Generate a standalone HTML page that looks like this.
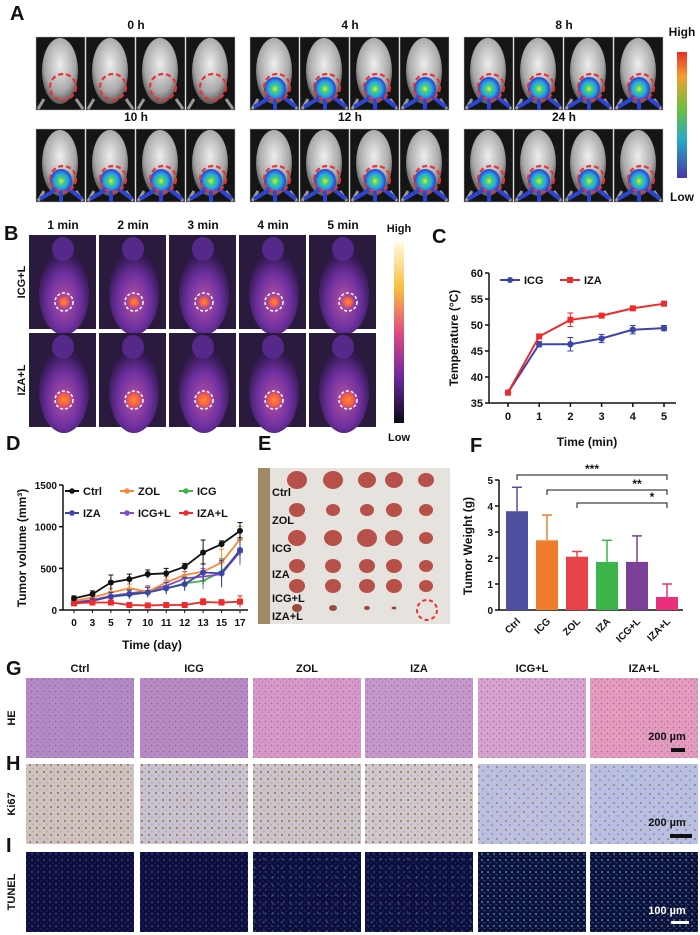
<!DOCTYPE html>
<html><head><meta charset="utf-8">
<style>
html,body{margin:0;padding:0;background:#fff;}
svg{display:block;font-family:"Liberation Sans",Arial,sans-serif;font-weight:bold;}
</style></head>
<body>
<svg id="fig" width="700" height="935" viewBox="0 0 700 935" xmlns="http://www.w3.org/2000/svg">
<defs>
<radialGradient id="mouseBody" cx="50%" cy="40%" r="60%"><stop offset="0" stop-color="#eeeeee"/><stop offset="0.7" stop-color="#a8a8a8"/><stop offset="1" stop-color="#555"/></radialGradient>
<radialGradient id="lumBlob" cx="50%" cy="50%" r="50%"><stop offset="0" stop-color="#f4e640"/><stop offset="0.3" stop-color="#3bd07a"/><stop offset="0.6" stop-color="#2aa6e0"/><stop offset="1" stop-color="#2b3ccf"/></radialGradient>
<radialGradient id="thermBody" cx="50%" cy="60%" r="55%"><stop offset="0" stop-color="#b552a0"/><stop offset="0.6" stop-color="#6e30a0"/><stop offset="1" stop-color="#341a52"/></radialGradient>
<radialGradient id="hot" cx="50%" cy="50%" r="50%"><stop offset="0" stop-color="#ff8a30"/><stop offset="0.6" stop-color="#f05a4a"/><stop offset="1" stop-color="#c04090" stop-opacity="0"/></radialGradient>
<linearGradient id="cbarA" x1="0" y1="0" x2="0" y2="1"><stop offset="0" stop-color="#e8302a"/><stop offset="0.2" stop-color="#f0a030"/><stop offset="0.45" stop-color="#6cc040"/><stop offset="0.7" stop-color="#2aa8c8"/><stop offset="1" stop-color="#4438a8"/></linearGradient>
<linearGradient id="cbarB" x1="0" y1="0" x2="0" y2="1"><stop offset="0" stop-color="#fffbe0"/><stop offset="0.25" stop-color="#f8c040"/><stop offset="0.5" stop-color="#e04a80"/><stop offset="0.75" stop-color="#6a28a0"/><stop offset="1" stop-color="#0a0a14"/></linearGradient>
<pattern id="heDots" width="6" height="6" patternUnits="userSpaceOnUse"><circle cx="1.5" cy="1.5" r="0.9" fill="#6a4a9a" opacity="0.5"/><circle cx="4.5" cy="4" r="0.8" fill="#7a58a8" opacity="0.4"/></pattern>
<pattern id="kiDots" width="7" height="7" patternUnits="userSpaceOnUse"><circle cx="2" cy="2" r="1" fill="#8a5a2a" opacity="0.8"/><circle cx="5" cy="5.5" r="0.9" fill="#7b8ac0" opacity="0.5"/></pattern>
<pattern id="kiDotsLow" width="9" height="9" patternUnits="userSpaceOnUse"><circle cx="2" cy="2" r="0.9" fill="#7a4a2a" opacity="0.7"/><circle cx="6" cy="6" r="1" fill="#6a7ac0" opacity="0.6"/></pattern>
<pattern id="tuDots" width="6" height="6" patternUnits="userSpaceOnUse"><circle cx="2" cy="2" r="1.2" fill="#3340c8" opacity="0.6"/><circle cx="5" cy="5" r="0.9" fill="#2a32b0" opacity="0.5"/></pattern>
<pattern id="tuGreen" width="9" height="9" patternUnits="userSpaceOnUse"><circle cx="3" cy="4" r="0.7" fill="#40d060" opacity="0.7"/></pattern>
<pattern id="tuGreenHi" width="6" height="6" patternUnits="userSpaceOnUse"><circle cx="2" cy="2" r="0.8" fill="#50e070" opacity="0.8"/><circle cx="4" cy="4.5" r="0.5" fill="#40c8b0" opacity="0.7"/></pattern>
</defs>
<g id="panelA"></g>
<g id="panelB"></g>
<g id="panelC"></g>
<g id="panelD"></g>
<g id="panelE"></g>
<g id="panelF"></g>
<g id="panelGHI"></g>
</svg>
<script>
// ===== Panel C data =====
const cTimes = [0,1,2,3,4,5];
const cICG = [37,46.3,46.3,47.4,49.1,49.4];
const cICGerr = [0.3,0.5,1.3,0.8,0.8,0.5];
const cIZA = [37,47.8,51.0,51.8,53.2,54.1];
const cIZAerr = [0.3,0.3,1.3,0.3,0.3,0.4];
const cYTicks = [35,40,45,50,55,60];
// ===== Panel D data =====
const dDays = ["0","3","5","7","10","11","12","13","15","17"];
const dCtrl = [140,190,330,370,430,440,520,690,790,950];
const dCtrlErr = [30,40,90,60,50,60,40,150,40,100];
const dZOL = [110,150,210,260,220,330,420,460,570,850];
const dICG = [90,120,160,180,210,260,320,350,460,690];
const dIZA = [80,110,160,190,210,260,310,450,440,720];
const dICGL = [90,120,170,200,230,290,380,400,430,700];
const dIZAL = [80,90,90,60,55,60,60,95,90,100];
const dGroupErr = [25,30,50,50,60,70,80,100,160,150];
const dIZALErr = [20,20,25,25,20,20,20,40,35,70];
const dYTicks = [0,500,1000,1500];
// ===== Panel F data =====
const fGroups = ["Ctrl","ICG","ZOL","IZA","ICG+L","IZA+L"];
const fMeans = [3.8,2.68,2.05,1.85,1.85,0.5];
const fErr = [0.92,0.97,0.2,0.83,1.0,0.5];
const fYTicks = [0,1,2,3,4,5];

const NS="http://www.w3.org/2000/svg";
function mk(parent,tag,attrs,text){const e=document.createElementNS(NS,tag);for(const k in attrs)e.setAttribute(k,attrs[k]);if(text!==undefined)e.textContent=text;parent.appendChild(e);return e;}
function label(parent,x,y,t,size,anchor,name,extra){const e=mk(parent,'text',Object.assign({x:x,y:y,'font-size':size,'text-anchor':anchor||'middle',fill:'#111'},extra||{}),t);


return e;}

// ===== Panel A =====
const A=document.getElementById('panelA');
label(A,10,20,'A',20,'start','panel-a-letter');
const aGroupX=[36,250,464];
const aRowY=[37,129];
const aTimes=[["0 h","4 h","8 h"],["10 h","12 h","24 h"]];
aRowY.forEach((ry,ri)=>{aGroupX.forEach((gx,gi)=>{
  label(A,gx+100,ry-8,aTimes[ri][gi],12,'middle','time-label');
  for(let k=0;k<4;k++){
    const x=gx+k*50, g=mk(A,'g',{});
    
    
    mk(g,'rect',{x:x,y:ry,width:49,height:73,fill:'#151515',stroke:'#bbb','stroke-width':0.5});
    mk(g,'ellipse',{cx:x+24,cy:ry+34,rx:18,ry:33,fill:'url(#mouseBody)'});
    mk(g,'path',{d:`M${x+8} ${ry+62} L${x+2} ${ry+72} M${x+40} ${ry+62} L${x+47} ${ry+72}`,stroke:'#999','stroke-width':3});
    const ccx=x+27, ccy=ry+50;
    if(!(ri===0&&gi===0)){
      mk(g,'ellipse',{cx:ccx-2,cy:ccy+2,rx:11,ry:12,fill:'url(#lumBlob)'});
      mk(g,'path',{d:`M${x+4} ${ry+70} L${ccx-6} ${ccy+10} M${x+46} ${ry+70} L${ccx+6} ${ccy+10} M${ccx-2} ${ccy+12} L${ccx-2} ${ry+73}`,stroke:'#2c44d0','stroke-width':4,fill:'none'});
    }
    mk(g,'circle',{cx:ccx,cy:ccy,r:13,fill:'none',stroke:'#f03030','stroke-width':2.2,'stroke-dasharray':'5 3'});
  }
});});
const cba=mk(A,'rect',{x:677,y:52,width:10,height:126,fill:'url(#cbarA)'});


label(A,682,36,'High',12,'middle','colorbar-high-label');
label(A,682,201,'Low',12,'middle','colorbar-low-label');

// ===== Panel B =====
const B=document.getElementById('panelB');
label(B,4,240,'B',20,'start','panel-b-letter');
const bX=[29,99,169,239,309];
const bMin=["1 min","2 min","3 min","4 min","5 min"];
const bY=[235,333];
bX.forEach((x,i)=>label(B,x+34,229,bMin[i],12,'middle','minute-label'));
bY.forEach((y,ri)=>{bX.forEach((x,i)=>{
  const g=mk(B,'g',{});
  
  
  mk(g,'rect',{x:x,y:y,width:67,height:94,fill:'#2a1a3e'});
  mk(g,'ellipse',{cx:x+35,cy:y+58,rx:25,ry:42,fill:'url(#thermBody)'});
  mk(g,'ellipse',{cx:x+34,cy:y+14,rx:11,ry:12,fill:'#55298a'});
  const cx=x+(i===4?39:35), cy=y+67;
  mk(g,'circle',{cx:cx,cy:cy,r:ri?10:7,fill:'url(#hot)'});
  mk(g,'circle',{cx:cx,cy:cy,r:9,fill:'none',stroke:'#fff','stroke-width':1.5,'stroke-dasharray':'3 2'});
});});
label(B,25,282,'ICG+L',11,'middle','row-label-icg-l',{transform:'rotate(-90 25 282)'});
label(B,25,380,'IZA+L',11,'middle','row-label-iza-l',{transform:'rotate(-90 25 380)'});
const cbb=mk(B,'rect',{x:394,y:242,width:10,height:181,fill:'url(#cbarB)'});


label(B,399,232,'High',11,'middle','colorbar-high-label');
label(B,399,441,'Low',11,'middle','colorbar-low-label');

// ===== Panel C =====
const C=document.getElementById('panelC');
label(C,432,243,'C',20,'start','panel-c-letter');
const cx0=508,cx1=664,cyTop=273,cyBot=403;
const cX=t=>cx0+(t-0)/5*(cx1-cx0);
const cY=v=>cyBot-(v-35)/25*(cyBot-cyTop);
const cax=mk(C,'path',{d:`M${cx0-19} ${cyTop} L${cx0-19} ${cyBot} L${cx1+12} ${cyBot}`,stroke:'#111','stroke-width':1.5,fill:'none'});


cYTicks.forEach(v=>{mk(C,'line',{x1:cx0-23,x2:cx0-19,y1:cY(v),y2:cY(v),stroke:'#111','stroke-width':1.5});label(C,cx0-25,cY(v)+4,String(v),11,'end','c-y-tick');});
cTimes.forEach(t=>{mk(C,'line',{x1:cX(t),x2:cX(t),y1:cyBot,y2:cyBot+4,stroke:'#111','stroke-width':1.5});label(C,cX(t),cyBot+17,String(t),11,'middle','c-x-tick');});
label(C,587,446,'Time (min)',12,'middle','c-x-axis-title');
label(C,458,338,'Temperature (°C)',12,'middle','c-y-axis-title',{transform:'rotate(-90 458 338)'});
function cSeries(vals,errs,color,marker,name){
  const g=mk(C,'g',{});
  
  
  mk(g,'polyline',{points:vals.map((v,i)=>cX(cTimes[i])+','+cY(v)).join(' '),fill:'none',stroke:color,'stroke-width':2});
  vals.forEach((v,i)=>{const x=cX(cTimes[i]);
    mk(g,'path',{d:`M${x} ${cY(v-errs[i])} L${x} ${cY(v+errs[i])} M${x-3} ${cY(v-errs[i])} L${x+3} ${cY(v-errs[i])} M${x-3} ${cY(v+errs[i])} L${x+3} ${cY(v+errs[i])}`,stroke:color,'stroke-width':1});
    if(marker==='c')mk(g,'circle',{cx:x,cy:cY(v),r:3.2,fill:color});else mk(g,'rect',{x:x-3,y:cY(v)-3,width:6,height:6,fill:color});
  });
}
cSeries(cICG,cICGerr,'#3a45a8','c','series-icg');
cSeries(cIZA,cIZAerr,'#ee2a2a','s','series-iza');
mk(C,'line',{x1:500,x2:520,y1:280,y2:280,stroke:'#3a45a8','stroke-width':2});mk(C,'circle',{cx:510,cy:280,r:3,fill:'#3a45a8'});
label(C,524,284,'ICG',11,'start','legend-icg');
mk(C,'line',{x1:560,x2:580,y1:280,y2:280,stroke:'#ee2a2a','stroke-width':2});mk(C,'rect',{x:567,y:277,width:6,height:6,fill:'#ee2a2a'});
label(C,584,284,'IZA',11,'start','legend-iza');

// ===== Panel D =====
const D=document.getElementById('panelD');
label(D,6,450,'D',20,'start','panel-d-letter');
const dx0=74,dx1=240,dy0=610,dyTop=485;
const dX=i=>dx0+i*(dx1-dx0)/(dDays.length-1);
const dY=v=>dy0-v/1500*(dy0-dyTop);
const dax=mk(D,'path',{d:`M63 ${dyTop} L63 ${dy0} L${dx1+8} ${dy0}`,stroke:'#111','stroke-width':1.5,fill:'none'});


dYTicks.forEach(v=>{mk(D,'line',{x1:59,x2:63,y1:dY(v),y2:dY(v),stroke:'#111','stroke-width':1.5});label(D,57,dY(v)+4,String(v),10,'end','d-y-tick');});
dDays.forEach((d,i)=>{mk(D,'line',{x1:dX(i),x2:dX(i),y1:dy0,y2:dy0+3,stroke:'#111'});label(D,dX(i),dy0+16,d,10,'middle','d-x-tick');});
label(D,152,649,'Time (day)',12,'middle','d-x-axis-title');
label(D,26,548,'Tumor volume (mm³)',12,'middle','d-y-axis-title',{transform:'rotate(-90 26 548)'});
function dSeries(vals,errs,color,marker,name){
  const g=mk(D,'g',{});
  
  
  vals.forEach((v,i)=>{const x=dX(i);mk(g,'path',{d:`M${x} ${dY(v-errs[i])} L${x} ${dY(v+errs[i])} M${x-2.5} ${dY(v+errs[i])} L${x+2.5} ${dY(v+errs[i])}`,stroke:color,'stroke-width':1});});
  mk(g,'polyline',{points:vals.map((v,i)=>dX(i)+','+dY(v)).join(' '),fill:'none',stroke:color,'stroke-width':1.8});
  vals.forEach((v,i)=>{const x=dX(i),y=dY(v);
    if(marker==='c')mk(g,'circle',{cx:x,cy:y,r:3,fill:color});
    else if(marker==='s')mk(g,'rect',{x:x-3,y:y-3,width:6,height:6,fill:color});
    else mk(g,'path',{d:`M${x-3} ${y} L${x+3} ${y} M${x} ${y-3} L${x} ${y+3}`,stroke:color,'stroke-width':1.5});
  });
}
dSeries(dICG,dGroupErr,'#3cb54a','p','series-icg');
dSeries(dICGL,dGroupErr,'#8a4ac0','p','series-icg-l');
dSeries(dZOL,dGroupErr,'#f58a30','p','series-zol');
dSeries(dIZA,dGroupErr,'#3a45a8','c','series-iza');
dSeries(dIZAL,dIZALErr,'#ee2a2a','s','series-iza-l');
dSeries(dCtrl,dCtrlErr,'#111','c','series-ctrl');
const dLeg=[["Ctrl","#111",72,491],["ZOL","#f58a30",127,491],["ICG","#3cb54a",186,491],["IZA","#3a45a8",72,513],["ICG+L","#8a4ac0",127,513],["IZA+L","#ee2a2a",186,513]];
dLeg.forEach(l=>{mk(D,'line',{x1:l[2]-7,x2:l[2]+7,y1:l[3],y2:l[3],stroke:l[1],'stroke-width':2});mk(D,'circle',{cx:l[2],cy:l[3],r:2.8,fill:l[1]});label(D,l[2]+11,l[3]+4,l[0],11,'start','legend-entry');});

// ===== Panel E =====
const E=document.getElementById('panelE');
label(E,258,450,'E',20,'start','panel-e-letter');
const ph=mk(E,'rect',{x:258,y:468,width:192,height:156,fill:'#e6e2de'});


mk(E,'rect',{x:258,y:468,width:12,height:156,fill:'#a08a68'});
const eCols=[297,333,367,394,426];
const eRows=[480,510,538,566,586,608];
const eSizes=[[9,9,8,8,7],[7,6,6,7,6],[8,8,9,8,6],[7,7,7,7,6],[7,7,7,7,6],[4,3,2,1.5,0]];
eRows.forEach((y,r)=>eCols.forEach((x,c)=>{const s=eSizes[r][c];if(s>0){const t=mk(E,'ellipse',{cx:x,cy:y,rx:s+1,ry:s,fill:r===5?'#9a4a3a':'#b8504a'});}}));
mk(E,'circle',{cx:427,cy:610,r:10,fill:'none',stroke:'#f03030','stroke-width':2,'stroke-dasharray':'4 3'});
[["Ctrl",496],["ZOL",524],["ICG",552],["IZA",578],["ICG+L",602],["IZA+L",620]].forEach(l=>label(E,272,l[1],l[0],11,'start','row-label'));

// ===== Panel F =====
const F=document.getElementById('panelF');
label(F,470,452,'F',20,'start','panel-f-letter');
const fy0=610,fyTop=480,fAxisX=499;
const fColors=["#4f4fa0","#f07d2d","#e8434b","#3cb54a","#7b3f98","#e8317a"];
const fX=i=>517+i*30;
const fY=v=>fy0-v/5*(fy0-fyTop);
mk(F,'path',{d:`M${fAxisX} ${fyTop} L${fAxisX} ${fy0} L${fX(5)+16} ${fy0}`,stroke:'#111','stroke-width':1.5,fill:'none'});
fYTicks.forEach(v=>{mk(F,'line',{x1:fAxisX-4,x2:fAxisX,y1:fY(v),y2:fY(v),stroke:'#111','stroke-width':1.5});label(F,fAxisX-6,fY(v)+4,String(v),10,'end','f-y-tick');});
label(F,472,546,'Tumor Weight (g)',12,'middle','f-y-axis-title',{transform:'rotate(-90 472 546)'});
fGroups.forEach((g,i)=>{
  const x=fX(i),y=fY(fMeans[i]);
  mk(F,'line',{x1:x,x2:x,y1:y,y2:fY(fMeans[i]+fErr[i]),stroke:fColors[i],'stroke-width':1.5});
  mk(F,'line',{x1:x-5,x2:x+5,y1:fY(fMeans[i]+fErr[i]),y2:fY(fMeans[i]+fErr[i]),stroke:fColors[i],'stroke-width':1.5});
  const b=mk(F,'rect',{x:x-11,y:y,width:22,height:fy0-y,fill:fColors[i]});
  
  
  label(F,x+4,fy0+12,g,10,'end','f-x-tick',{transform:`rotate(-45 ${x+4} ${fy0+12})`});
});
[[0,475,'***'],[1,490,'**'],[2,503,'*']].forEach(s=>{
  const x1=fX(s[0]),x2=fX(5);
  mk(F,'path',{d:`M${x1} ${s[1]+5} L${x1} ${s[1]} L${x2} ${s[1]} L${x2} ${s[1]+5}`,stroke:'#111','stroke-width':1,fill:'none'});
  label(F,(x1+x2)/2+(s[0]===0?0:30),s[1]-2,s[2],12,'middle','significance-marker');
});

// ===== Panels G/H/I =====
const H=document.getElementById('panelGHI');
const tX=[26,140,253,365,478,590];
const tW=108;
const tNames=["Ctrl","ICG","ZOL","IZA","ICG+L","IZA+L"];
const heCol=["#b48ac4","#b98bc3","#d79ac6","#c799ca","#d8a3cc","#e69cbc"];
const kiCol=["#cfc3c0","#c9c3cf","#cbc4c9","#cfc8cd","#bcc0dc","#b8bfe0"];
const tuGreen=["none","none","url(#tuGreen)","url(#tuGreen)","url(#tuGreenHi)","url(#tuGreenHi)"];
label(H,6,675,'G',20,'start','panel-g-letter');
label(H,6,770,'H',20,'start','panel-h-letter');
label(H,6,852,'I',20,'start','panel-i-letter');
tNames.forEach((n,i)=>label(H,tX[i]+tW/2,672,n,11,'middle','column-label'));
label(H,15,718,'HE',11,'middle','row-label-he',{transform:'rotate(-90 15 718)'});
label(H,15,804,'Ki67',11,'middle','row-label-ki67',{transform:'rotate(-90 15 804)'});
label(H,15,892,'TUNEL',11,'middle','row-label-tunel',{transform:'rotate(-90 15 892)'});
tX.forEach((x,i)=>{
  let t=mk(H,'rect',{x:x,y:678,width:tW,height:80,fill:heCol[i]});
  
  
  mk(H,'rect',{x:x,y:678,width:tW,height:80,fill:'url(#heDots)'});
  t=mk(H,'rect',{x:x,y:764,width:tW,height:80,fill:kiCol[i]});
  
  
  mk(H,'rect',{x:x,y:764,width:tW,height:80,fill:i>=4?'url(#kiDotsLow)':'url(#kiDots)'});
  t=mk(H,'rect',{x:x,y:852,width:tW,height:80,fill:'#0e0f36'});
  
  
  mk(H,'rect',{x:x,y:852,width:tW,height:80,fill:'url(#tuDots)'});
  if(tuGreen[i]!=='none')mk(H,'rect',{x:x,y:852,width:tW,height:80,fill:tuGreen[i]});
});
label(H,667,740,'200 µm',11,'middle','scale-bar-label');
mk(H,'rect',{x:671,y:748,width:14,height:4,fill:'#111'});
label(H,667,826,'200 µm',11,'middle','scale-bar-label');
mk(H,'rect',{x:670,y:834,width:22,height:4,fill:'#111'});
label(H,667,914,'100 µm',11,'middle','scale-bar-label',{fill:'#fff'});
mk(H,'rect',{x:671,y:921,width:18,height:3,fill:'#fff'});
</script>
</body></html>
